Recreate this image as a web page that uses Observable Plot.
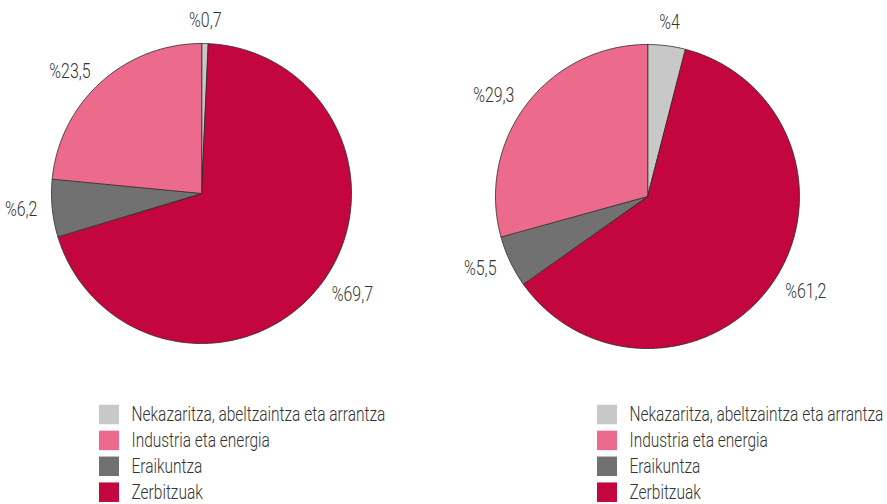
<!DOCTYPE html>
<html>
<head>
<meta charset="utf-8">
<script src="https://cdn.jsdelivr.net/npm/d3@7"></script>
<script src="https://cdn.jsdelivr.net/npm/@observablehq/plot@0.6"></script>
<style>
  html, body { margin: 0; padding: 0; background: #fff; }
  #chart svg { display: block; }
  #chart text { font-family: "Roboto", "Liberation Sans", sans-serif; font-weight: 300; }
</style>
</head>
<body>
<div id="chart"></div>
<script>
// ---- Data ----
const categories = [
  "Nekazaritza, abeltzaintza eta arrantza",
  "Industria eta energia",
  "Eraikuntza",
  "Zerbitzuak"
];
const colors = ["#c8c8c8", "#ec6a8c", "#717171", "#c3063e"];
// clockwise order of slices starting at 12 o'clock
const sliceOrder = [0, 3, 2, 1];
const leftValues = [0.7, 23.5, 6.2, 69.7];
const rightValues = [4, 29.3, 5.5, 61.2];
const leftLabels = ["%0,7", "%23,5", "%6,2", "%69,7"];
const rightLabels = ["%4", "%29,3", "%5,5", "%61,2"];

// ---- Layout ----
const W = 887, H = 504;
const panels = [
  {name: "left", values: leftValues, labels: leftLabels, cx: 201, cy: 193, r: 150, lx: 99},
  {name: "right", values: rightValues, labels: rightLabels, cx: 647, cy: 196, r: 152, lx: 597}
];
const legendY0 = 414.5, legendStep = 25.9, swatch = 19.5;
const labelKSide = 1.1, labelKTop = 1.15;

const polys = [];
const labelRows = [];
const legendRows = [];
for (const p of panels) {
  const total = d3.sum(p.values);
  let acc = 0;
  for (const i of sliceOrder) {
    const a0 = acc / total * 2 * Math.PI;
    acc += p.values[i];
    const a1 = acc / total * 2 * Math.PI;
    const key = p.name + "-" + i;
    polys.push({key, cat: categories[i], x: p.cx, y: p.cy});
    const n = Math.max(2, Math.ceil((a1 - a0) / (Math.PI / 180)));
    for (let k = 0; k <= n; k++) {
      const a = a0 + (a1 - a0) * k / n;
      polys.push({key, cat: categories[i], x: p.cx + p.r * Math.sin(a), y: p.cy - p.r * Math.cos(a)});
    }
    const am = (a0 + a1) / 2;
    const sx = Math.sin(am);
    const anchor = Math.abs(sx) < 0.3 ? "middle" : sx > 0 ? "start" : "end";
    const lr = p.r * (anchor === "middle" ? labelKTop : labelKSide);
    labelRows.push({
      text: p.labels[i],
      x: p.cx + lr * sx,
      y: p.cy - lr * Math.cos(am),
      anchor
    });
  }
  categories.forEach((c, i) => {
    legendRows.push({cat: c, x1: p.lx, x2: p.lx + 20, y: legendY0 + i * legendStep});
  });
}

const textMarks = ["start", "middle", "end"].map(a =>
  Plot.text(labelRows.filter(d => d.anchor === a), {
    x: "x", y: "y", text: "text",
    fontSize: 20, fill: "#333", textAnchor: a, lineAnchor: "middle"
  })
);

const chart = Plot.plot({
  width: W,
  height: H,
  margin: 0,
  x: {domain: [0, W], range: [0, W], axis: null},
  y: {domain: [0, H], range: [0, H], axis: null},
  color: {domain: categories, range: colors},
  marks: [
    Plot.line(polys, {
      x: "x", y: "y", z: "key", fill: "cat",
      stroke: "#2b2b2b", strokeWidth: 0.8, curve: "linear-closed"
    }),
    ...textMarks,
    Plot.rect(legendRows, {
      x1: "x1", x2: "x2",
      y1: d => d.y - swatch / 2, y2: d => d.y + swatch / 2,
      fill: "cat"
    }),
    Plot.text(legendRows, {
      x: d => d.x2 + 12, y: "y", text: "cat",
      fontSize: 19.5, fill: "#333", textAnchor: "start", lineAnchor: "middle"
    })
  ]
});
document.getElementById("chart").appendChild(chart);

// condensed look: squeeze text horizontally so the longest legend entry spans ~254px
const texts = Array.from(chart.querySelectorAll("text"));
const longest = texts.find(t => t.textContent === categories[0]);
const s = longest ? Math.min(1, 254 / longest.getComputedTextLength()) : 0.8;
texts.forEach(t => {
  const xa = t.getAttribute("x");
  let x = 0;
  if (xa !== null && !isNaN(+xa)) { x = +xa; t.removeAttribute("x"); }
  const tr = t.getAttribute("transform") || "";
  t.setAttribute("transform", `${tr} translate(${x},0) scale(${s},1)`);
});
</script>
</body>
</html>
